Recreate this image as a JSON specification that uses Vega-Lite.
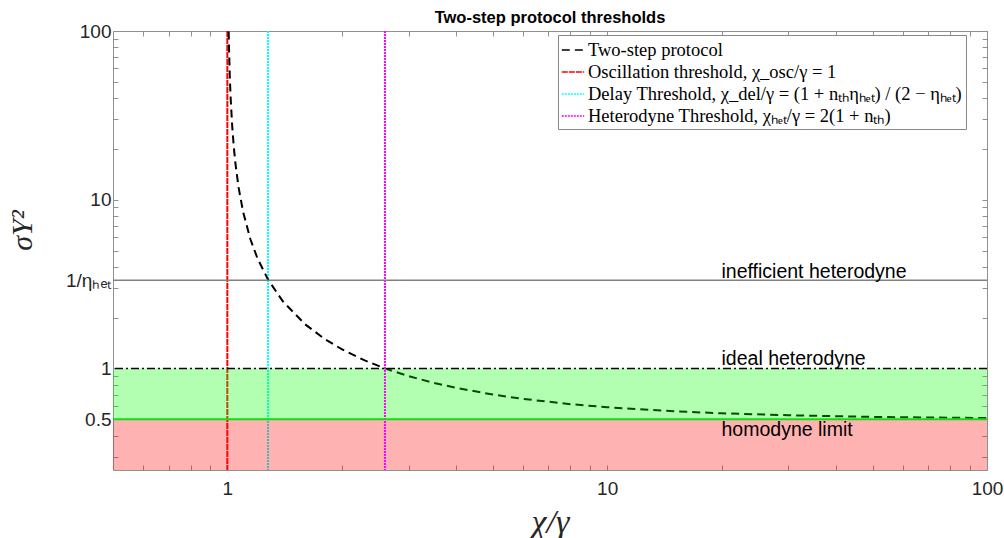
{
  "$schema": "https://vega.github.io/schema/vega-lite/v6.json",
  "width": 874,
  "height": 439,
  "autosize": {"type": "none"},
  "padding": {"left": 113, "top": 31, "right": 17, "bottom": 68},
  "background": "white",
  "title": {"text": "Two-step protocol thresholds", "font": "Liberation Sans", "fontSize": 16.5, "fontWeight": "bold", "color": "#000000", "anchor": "middle", "frame": "group", "offset": -4},
  "config": {
    "view": {"stroke": null},
    "axis": {"grid": false, "domain": true, "domainColor": "#909090", "domainWidth": 1, "tickColor": "#909090", "labelColor": "#262626", "labelFont": "Liberation Sans", "labelFontSize": 19, "tickSize": -5, "labelFlush": false, "labelOverlap": false, "labelBound": false}
  },
  "resolve": {"axis": {"x": "independent", "y": "independent"}},
  "layer": [
    {
      "data": {"values": [
        {"series": "Oscillation threshold, χ_osc/γ = 1", "x": 1},
        {"series": "Delay Threshold, χ_del/γ = (1 + nₜₕηₕₑₜ) / (2 − ηₕₑₜ)", "x": 1.28}
      ]},
      "mark": {"type": "rule", "strokeWidth": 2},
      "encoding": {
        "x": {"field": "x", "type": "quantitative", "scale": {"type": "log", "domain": [0.5, 100], "nice": false}, "axis": null},
        "color": {"field": "series", "type": "nominal",
          "scale": {"domain": ["Two-step protocol", "Oscillation threshold, χ_osc/γ = 1", "Delay Threshold, χ_del/γ = (1 + nₜₕηₕₑₜ) / (2 − ηₕₑₜ)", "Heterodyne Threshold, χₕₑₜ/γ = 2(1 + nₜₕ)"], "range": ["#000000", "#ff0000", "#00ffff", "#ff00ff"]},
          "legend": {"title": null, "orient": "none", "legendX": 445, "legendY": 4, "symbolType": "stroke", "symbolSize": 500, "symbolStrokeWidth": 1.5, "labelFont": "Liberation Serif", "labelFontSize": 18.5, "labelColor": "#000000", "labelLimit": 600, "fillColor": "#ffffff", "strokeColor": "#888888", "padding": 3, "rowPadding": 0, "labelOffset": 3}},
        "strokeDash": {"field": "series", "type": "nominal",
          "scale": {"domain": ["Two-step protocol", "Oscillation threshold, χ_osc/γ = 1", "Delay Threshold, χ_del/γ = (1 + nₜₕηₕₑₜ) / (2 − ηₕₑₜ)", "Heterodyne Threshold, χₕₑₜ/γ = 2(1 + nₜₕ)"], "range": [[8, 5], [6, 1], [2, 1], [2, 1]]},
          "legend": {"title": null, "orient": "none", "legendX": 445, "legendY": 4, "symbolType": "stroke", "symbolSize": 500, "symbolStrokeWidth": 1.5, "labelFont": "Liberation Serif", "labelFontSize": 18.5, "labelColor": "#000000", "labelLimit": 600, "fillColor": "#ffffff", "strokeColor": "#888888", "padding": 3, "rowPadding": 0, "labelOffset": 3}}
      }
    },
    {
      "data": {"values": [
        {"series": "Two-step protocol", "x": 1.0081, "y": 99.3},
        {"series": "Two-step protocol", "x": 1.01, "y": 80.5},
        {"series": "Two-step protocol", "x": 1.015, "y": 53.8},
        {"series": "Two-step protocol", "x": 1.02, "y": 40.5},
        {"series": "Two-step protocol", "x": 1.03, "y": 27.2},
        {"series": "Two-step protocol", "x": 1.04, "y": 20.5},
        {"series": "Two-step protocol", "x": 1.05, "y": 16.5},
        {"series": "Two-step protocol", "x": 1.07, "y": 11.9},
        {"series": "Two-step protocol", "x": 1.1, "y": 8.5},
        {"series": "Two-step protocol", "x": 1.15, "y": 5.83},
        {"series": "Two-step protocol", "x": 1.2, "y": 4.5},
        {"series": "Two-step protocol", "x": 1.28, "y": 3.36},
        {"series": "Two-step protocol", "x": 1.4, "y": 2.5},
        {"series": "Two-step protocol", "x": 1.6, "y": 1.83},
        {"series": "Two-step protocol", "x": 1.8, "y": 1.5},
        {"series": "Two-step protocol", "x": 2.0, "y": 1.3},
        {"series": "Two-step protocol", "x": 2.3, "y": 1.115},
        {"series": "Two-step protocol", "x": 2.6, "y": 1.0},
        {"series": "Two-step protocol", "x": 3, "y": 0.9},
        {"series": "Two-step protocol", "x": 3.5, "y": 0.82},
        {"series": "Two-step protocol", "x": 4, "y": 0.767},
        {"series": "Two-step protocol", "x": 5, "y": 0.7},
        {"series": "Two-step protocol", "x": 6, "y": 0.66},
        {"series": "Two-step protocol", "x": 8, "y": 0.614},
        {"series": "Two-step protocol", "x": 10, "y": 0.589},
        {"series": "Two-step protocol", "x": 15, "y": 0.557},
        {"series": "Two-step protocol", "x": 20, "y": 0.542},
        {"series": "Two-step protocol", "x": 30, "y": 0.528},
        {"series": "Two-step protocol", "x": 50, "y": 0.516},
        {"series": "Two-step protocol", "x": 70, "y": 0.512},
        {"series": "Two-step protocol", "x": 100, "y": 0.508}
      ]},
      "mark": {"type": "line", "strokeWidth": 2, "clip": true},
      "encoding": {
        "x": {"field": "x", "type": "quantitative", "scale": {"type": "log", "domain": [0.5, 100], "nice": false}, "axis": null},
        "y": {"field": "y", "type": "quantitative", "scale": {"type": "log", "domain": [0.25, 100], "nice": false}, "axis": null},
        "color": {"field": "series", "type": "nominal"},
        "strokeDash": {"field": "series", "type": "nominal"}
      }
    },
    {
      "data": {"values": [
        {"x": 0.5, "x2": 100, "y": 0.5, "y2": 1}
      ]},
      "mark": {"type": "rect", "color": "#00ff00", "opacity": 0.3},
      "encoding": {
        "x": {"field": "x", "type": "quantitative", "scale": {"type": "log", "domain": [0.5, 100], "nice": false},
          "axis": {"orient": "bottom", "title": "χ/γ", "titleFont": "Liberation Serif", "titleFontStyle": "italic", "titleFontWeight": "normal", "titleFontSize": 34, "titleColor": "#262626", "titleX": 437, "titleY": 52, "titleBaseline": "middle", "titleAlign": "center", "labelPadding": 14,
            "values": [0.6, 0.7, 0.8, 0.9, 1, 2, 3, 4, 5, 6, 7, 8, 9, 10, 20, 30, 40, 50, 60, 70, 80, 90, 100],
            "labelExpr": "datum.value == 1 ? '1' : datum.value == 10 ? '10' : datum.value == 100 ? '100' : ''"}},
        "x2": {"field": "x2"},
        "y": {"field": "y", "type": "quantitative", "scale": {"type": "log", "domain": [0.25, 100], "nice": false},
          "axis": {"orient": "left", "title": "σY²", "titleFont": "Liberation Serif", "titleFontStyle": "italic", "titleFontWeight": "normal", "titleFontSize": 30, "titleColor": "#262626", "titleX": -91, "titleY": 199, "titleAngle": 270, "titleBaseline": "middle", "titleAlign": "center", "labelPadding": 7,
            "values": [0.3, 0.4, 0.5, 0.6, 0.7, 0.8, 0.9, 1, 2, 3, 3.3333, 4, 5, 6, 7, 8, 9, 10, 20, 30, 40, 50, 60, 70, 80, 90, 100],
            "labelExpr": "datum.value == 0.5 ? '0.5' : datum.value == 1 ? '1' : (datum.value > 3.3 && datum.value < 3.4) ? '1/ηₕₑₜ' : datum.value == 10 ? '10' : datum.value == 100 ? '100' : ''"}},
        "y2": {"field": "y2"}
      }
    },
    {
      "data": {"values": [
        {"x": 0.5, "x2": 100, "y": 0.25, "y2": 0.5}
      ]},
      "mark": {"type": "rect", "color": "#ff0000", "opacity": 0.3},
      "encoding": {
        "x": {"field": "x", "type": "quantitative", "scale": {"type": "log", "domain": [0.5, 100], "nice": false}, "axis": null},
        "x2": {"field": "x2"},
        "y": {"field": "y", "type": "quantitative", "scale": {"type": "log", "domain": [0.25, 100], "nice": false}, "axis": null},
        "y2": {"field": "y2"}
      }
    },
    {
      "data": {"values": [
        {"series": "Heterodyne Threshold, χₕₑₜ/γ = 2(1 + nₜₕ)", "x": 2.6}
      ]},
      "mark": {"type": "rule", "strokeWidth": 2},
      "encoding": {
        "x": {"field": "x", "type": "quantitative", "scale": {"type": "log", "domain": [0.5, 100], "nice": false}, "axis": null},
        "color": {"field": "series", "type": "nominal"},
        "strokeDash": {"field": "series", "type": "nominal"}
      }
    },
    {
      "data": {"values": [{"y": 3.3333}]},
      "mark": {"type": "rule", "color": "#808080", "strokeWidth": 1.5},
      "encoding": {"y": {"field": "y", "type": "quantitative", "scale": {"type": "log", "domain": [0.25, 100], "nice": false}, "axis": null}}
    },
    {
      "data": {"values": [{"y": 1}]},
      "mark": {"type": "rule", "color": "#000000", "strokeWidth": 1.5, "strokeDash": [8, 3, 2, 3]},
      "encoding": {"y": {"field": "y", "type": "quantitative", "scale": {"type": "log", "domain": [0.25, 100], "nice": false}, "axis": null}}
    },
    {
      "data": {"values": [{"y": 0.5}]},
      "mark": {"type": "rule", "color": "#11dd11", "strokeWidth": 2},
      "encoding": {"y": {"field": "y", "type": "quantitative", "scale": {"type": "log", "domain": [0.25, 100], "nice": false}, "axis": null}}
    },
    {
      "data": {"values": [
        {"x": 20, "y": 3.3333, "label": "inefficient heterodyne"}
      ]},
      "mark": {"type": "text", "align": "left", "baseline": "alphabetic", "dy": -2, "font": "Liberation Sans", "fontSize": 19.5, "color": "#000000"},
      "encoding": {
        "x": {"field": "x", "type": "quantitative", "scale": {"type": "log", "domain": [0.5, 100], "nice": false}, "axis": null},
        "y": {"field": "y", "type": "quantitative", "scale": {"type": "log", "domain": [0.25, 100], "nice": false}, "axis": null},
        "text": {"field": "label"}
      }
    },
    {
      "data": {"values": [
        {"x": 20, "y": 1, "label": "ideal heterodyne"}
      ]},
      "mark": {"type": "text", "align": "left", "baseline": "alphabetic", "dy": -3, "font": "Liberation Sans", "fontSize": 19.5, "color": "#000000"},
      "encoding": {
        "x": {"field": "x", "type": "quantitative", "scale": {"type": "log", "domain": [0.5, 100], "nice": false}, "axis": null},
        "y": {"field": "y", "type": "quantitative", "scale": {"type": "log", "domain": [0.25, 100], "nice": false}, "axis": null},
        "text": {"field": "label"}
      }
    },
    {
      "data": {"values": [
        {"x": 20, "y": 0.5, "label": "homodyne limit"}
      ]},
      "mark": {"type": "text", "align": "left", "baseline": "alphabetic", "dy": 17, "font": "Liberation Sans", "fontSize": 19.5, "color": "#000000"},
      "encoding": {
        "x": {"field": "x", "type": "quantitative", "scale": {"type": "log", "domain": [0.5, 100], "nice": false}, "axis": null},
        "y": {"field": "y", "type": "quantitative", "scale": {"type": "log", "domain": [0.25, 100], "nice": false}, "axis": null},
        "text": {"field": "label"}
      }
    },
    {
      "data": {"values": [{"x": 1, "y": 1}]},
      "mark": {"type": "point", "opacity": 0},
      "encoding": {
        "x": {"field": "x", "type": "quantitative", "scale": {"type": "log", "domain": [0.5, 100], "nice": false},
          "axis": {"orient": "top", "title": null, "labels": false, "values": [0.6, 0.7, 0.8, 0.9, 1, 2, 3, 4, 5, 6, 7, 8, 9, 10, 20, 30, 40, 50, 60, 70, 80, 90, 100]}},
        "y": {"field": "y", "type": "quantitative", "scale": {"type": "log", "domain": [0.25, 100], "nice": false},
          "axis": {"orient": "right", "title": null, "labels": false, "values": [0.3, 0.4, 0.5, 0.6, 0.7, 0.8, 0.9, 1, 2, 3, 3.3333, 4, 5, 6, 7, 8, 9, 10, 20, 30, 40, 50, 60, 70, 80, 90, 100]}}
      }
    }
  ]
}
